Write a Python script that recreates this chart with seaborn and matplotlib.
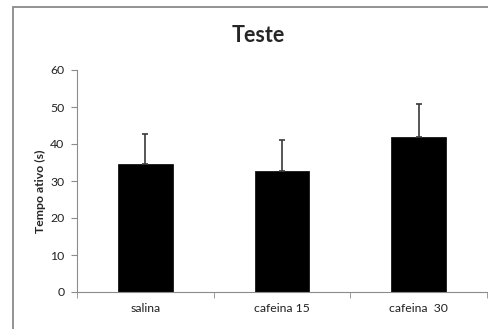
import matplotlib
matplotlib.use("Agg")
import matplotlib.pyplot as plt
import seaborn as sns
import numpy as np
import pandas as pd
from matplotlib.patches import Rectangle

categories = ["salina", "cafeina 15", "cafeina  30"]
means = [34.6, 32.7, 42.0]
errors = [8.1, 8.4, 8.8]
yticks = [0, 10, 20, 30, 40, 50, 60]

sns.set_style("white")
plt.rcParams['font.family'] = ['Lato', 'DejaVu Sans']

W, H = 489, 329
fig = plt.figure(figsize=(W / 100, H / 100), dpi=100)
ax = fig.add_axes([77 / W, (H - 292) / H, (487 - 77) / W, (292 - 70) / H])

df = pd.DataFrame({"cat": categories, "val": means})
sns.barplot(data=df, x="cat", y="val", color="black", width=0.4,
            errorbar=None, ax=ax, saturation=1, edgecolor="black", linewidth=0.5)

xs = [p.get_x() + p.get_width() / 2 for p in ax.patches]
ax.errorbar(xs, means, yerr=[np.zeros(len(errors)), errors], fmt="none",
            ecolor="#3a3a3a", elinewidth=1.2, capsize=2.5, capthick=1.2)

ax.set_xlim(-0.5, 2.5)
ax.set_ylim(0, 60)
ax.set_yticks(yticks)
ax.set_xlabel("")
ax.set_ylabel("")
gray = "#8c8c8c"
for s in ["top", "right"]:
    ax.spines[s].set_visible(False)
for s in ["left", "bottom"]:
    ax.spines[s].set_color(gray)
    ax.spines[s].set_linewidth(0.8)
ax.tick_params(axis="y", which="major", length=4, color=gray, direction="out",
               labelsize=8.8, labelcolor="#222222", left=True, pad=5)
ax.set_xticks([-0.5, 0.5, 1.5, 2.5], minor=True)
ax.tick_params(axis="x", which="minor", length=4, color=gray, direction="out", bottom=True)
ax.tick_params(axis="x", which="major", length=0, labelsize=8.8, labelcolor="#222222", pad=8)

fig.text(258 / W, 1 - 36 / H, "Teste", ha="center", va="center",
         fontsize=15.5, fontweight="bold")
fig.text(40 / W, 1 - 191 / H, "Tempo ativo (s)", ha="center", va="center",
         rotation=90, fontsize=8.8, fontweight="bold")

fig.patches.append(Rectangle((13 / W, -0.1), 1.2, 1 - 6.5 / H + 0.1,
                             transform=fig.transFigure, fill=False,
                             edgecolor="#8a8a8a", linewidth=1.3))

fig.savefig("out.png", dpi=100)
